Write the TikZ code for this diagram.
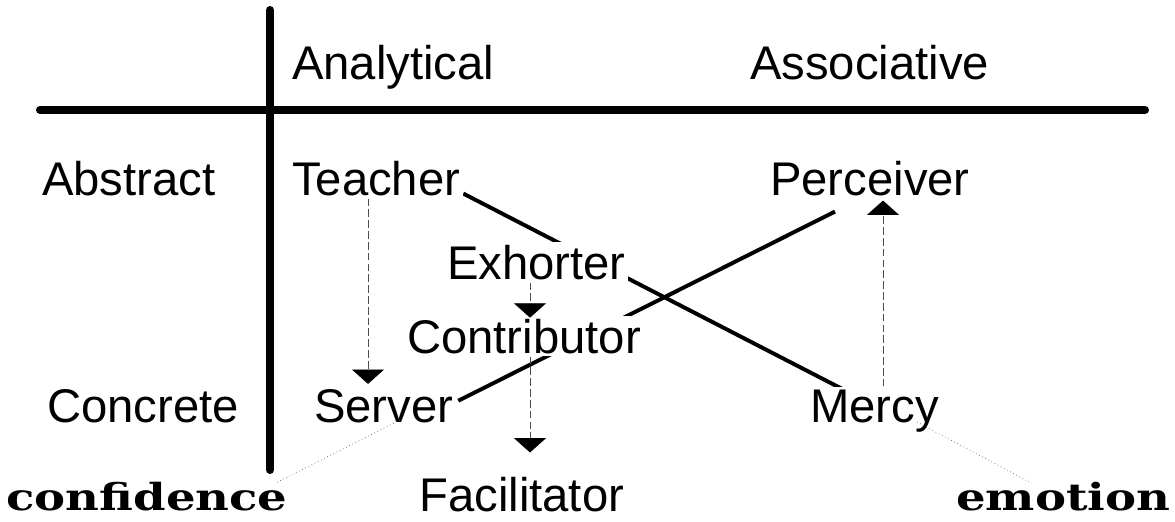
\documentclass[tikz,border=0pt]{standalone}
\usepackage{fontspec}
\setmainfont{Liberation Sans}
\newfontfamily\tagfont[FakeStretch=1.25]{DejaVu Serif}
\usetikzlibrary{arrows.meta,calc,backgrounds}

\begin{document}
\begin{tikzpicture}[x=0.025cm, y=-0.025cm,
    word/.style={anchor=base west, inner sep=2pt, fill=white, font=\fontsize{33.6}{40}\selectfont},
    tag/.style={anchor=base west, inner sep=0pt, font=\tagfont\bfseries\fontsize{26.5}{30}\selectfont},
    axis/.style={line width=5.7pt, line cap=round},
    link/.style={line width=2.8pt},
    flow/.style={black!70, line width=0.6pt, dash pattern=on 5.5pt off 2.2pt, -{Triangle[width=0.8cm, length=0.36cm, black]}},
    hint/.style={black!60, line width=0.5pt, dotted}]
          \useasboundingbox (0, 0) rectangle (1175, 521);

          \draw [axis] (270, 10) -- (270, 470);
          \draw [axis] (40, 110) -- (1145, 110);

          \node [word] (analytical) at (289, 79) {Analytical};
          \node [word] (associative) at (747, 79) {Associative};
          \node [word] (abstract) at (39, 195) {Abstract};
          \node [word] (concrete) at (44, 422) {Concrete};

          \node [word] (teacher) at (289, 195) {Teacher};
          \node [word] (perceiver) at (767, 195) {Perceiver};
          \node [word] (exhorter) at (444, 279) {Exhorter};
          \node [word] (contributor) at (404, 353) {Contributor};
          \node [word] (server) at (311, 422) {Server};
          \node [word] (mercy) at (807, 422) {Mercy};
          \node [word, inner sep=0pt] (facilitator) at (419, 511) {Facilitator};

          \node [tag] (confidence) at (6, 510) {confidence};
          \node [tag] (emotion) at (956, 510) {emotion};

          \begin{pgfonlayer}{background}
          \draw [link] ($(teacher.south east)+(0, -5)$) -- ($(mercy.north west)+(40, 5)$);
          \draw [link] ($(server.east)+(2, -5)$) -- ($(perceiver.south west)+(68, 13)$);
          \end{pgfonlayer}

          \draw [flow] ($(teacher.south west)+(79, 0)$) -- ($(server.north west)+(57, -2)$);
          \draw [flow] ($(exhorter.south west)+(86, 0)$) -- ($(contributor.north west)+(126, 2)$);
          \draw [flow] ($(contributor.south west)+(126, 0)$) -- ($(facilitator.north west)+(111, -24)$);
          \draw [flow] ($(mercy.north west)+(76, 0)$) -- ($(perceiver.south west)+(116, 2)$);

          \draw [hint] ($(server.base west)+(89, -2)$) -- ($(confidence.north east)+(-11, 1)$);
          \draw [hint] ($(mercy.base west)+(110, 0)$) -- ($(emotion.north west)+(76, 2)$);
        \end{tikzpicture}
\end{document}
